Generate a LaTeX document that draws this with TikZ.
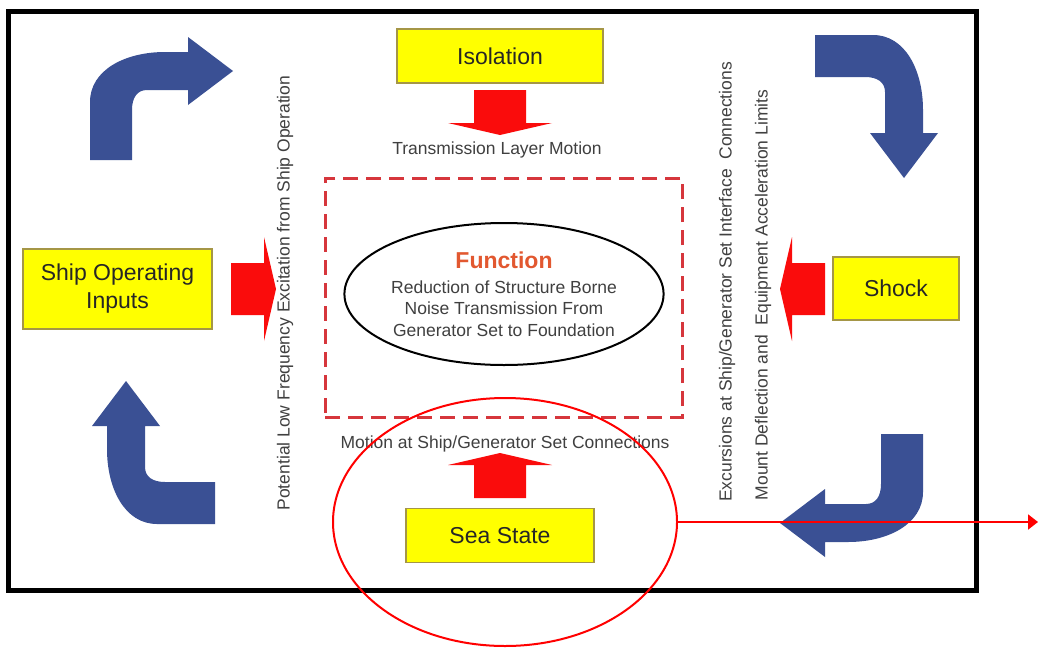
\documentclass[tikz,border=0pt]{standalone}
\usepackage{fontspec}
\setmainfont{Liberation Sans}
\usepackage{tikz}
\usetikzlibrary{positioning,shapes.geometric,arrows.meta}

\definecolor{boxfill}{RGB}{255,255,0}
\definecolor{boxedge}{RGB}{165,150,70}
\definecolor{arrowred}{RGB}{250,12,12}
\definecolor{shipblue}{RGB}{58,80,148}
\definecolor{dashred}{RGB}{214,54,60}
\definecolor{fnorange}{RGB}{226,88,48}
\definecolor{labelgray}{RGB}{64,64,64}

\begin{document}
\begin{tikzpicture}[
        x=1pt, y=-1pt,
        inputbox/.style={
                rectangle,
                draw=boxedge,
                fill=boxfill,
                line width=1.5pt,
                inner sep=0pt,
                align=center,
                text=black!85,
                font=\fontsize{23}{28}\selectfont
            },
        motion/.style = {font=\fontsize{17.5}{21.5}\selectfont, text=labelgray, inner sep=0pt},
        redarrow/.pic = {
                \fill[arrowred] (-45,-26) -- (-12,-26) -- (-12,-52) -- (0,0)
                    -- (-12,52) -- (-12,26) -- (-45,26) -- cycle;
            },
        bluearrow/.pic = {
                \fill[shipblue] (0,108) -- (0,50) .. controls (0,18) and (35,0) .. (75,0)
                    -- (98,0) -- (98,-15) -- (143,19) -- (98,53) -- (98,38) -- (57,38)
                    .. controls (47,38) and (42,46) .. (42,58) -- (42,108) -- cycle;
            },
        >= {Triangle[length=10pt,width=15pt]}
    ]
    \useasboundingbox (0,0) rectangle (1038,648);
    \fill[white] (0,0) rectangle (1038,648);
    \draw[line width=5pt] (8,11) rectangle (976,590);

    % inputs round the function
    \node[inputbox, minimum width=206pt, minimum height=54pt] (iso) at (500,56) {Isolation};
    \node[inputbox, minimum width=188pt, minimum height=54pt] (sea) [below=424pt of iso] {Sea State};
    \node[inputbox, minimum width=189pt, minimum height=80pt] (ship) at (117.5,289) {Ship Operating\\Inputs};
    \node[inputbox, minimum width=126pt, minimum height=63pt] (shock) at (896,288.5) {Shock};

    \pic[rotate=-90] at (500,135) {redarrow};
    \pic[rotate=90] at (500,453) {redarrow};
    \pic at (276,289) {redarrow};
    \pic[rotate=180] at (780,289) {redarrow};

    \pic at (90,52) {bluearrow};
    \pic[rotate=-90] at (923,35) {bluearrow};
    \pic[rotate=180] at (923,542) {bluearrow};
    \pic[rotate=90] at (107,524) {bluearrow};

    % the function
    \node[draw=dashred, line width=3pt, dash pattern=on 15pt off 8pt,
        minimum width=357pt, minimum height=239pt] (layer) at (503.5,297.5) {};
    \node[ellipse, draw, line width=2pt, minimum width=305pt, minimum height=142pt,
        align=center, inner sep=0pt, text=labelgray,
        font=\fontsize{17.5}{21.5}\selectfont] (func) at (504,294)
        {{\fontsize{23}{25}\selectfont\bfseries\color{fnorange}Function}\\[3pt]
        Reduction of Structure Borne\\Noise Transmission From\\Generator Set to Foundation};

    \node[motion] (translabel) at (497,150) {Transmission Layer Motion};
    \node[motion] (sealabel) at (505,444) {Motion at Ship/Generator Set Connections};
    \node[motion, rotate=90] (lowfreq) at (285,293) {Potential Low Frequency Excitation from Ship Operation};
    \node[motion, rotate=90] (excursion) at (727,282) {Excursions at Ship/Generator Set Interface\ \ Connections};
    \node[motion, rotate=90] (limits) at (763,295) {Mount Deflection and\ \ Equipment Acceleration Limits};

    % mark on sea state
    \node[ellipse, draw=red, line width=2pt, minimum width=344pt, minimum height=248pt] (mark) at (505,522) {};
    \coordinate (out) at (1038,522);
    \draw[->, red, line width=2pt] (mark) -- (out);
\end{tikzpicture}
\end{document}
